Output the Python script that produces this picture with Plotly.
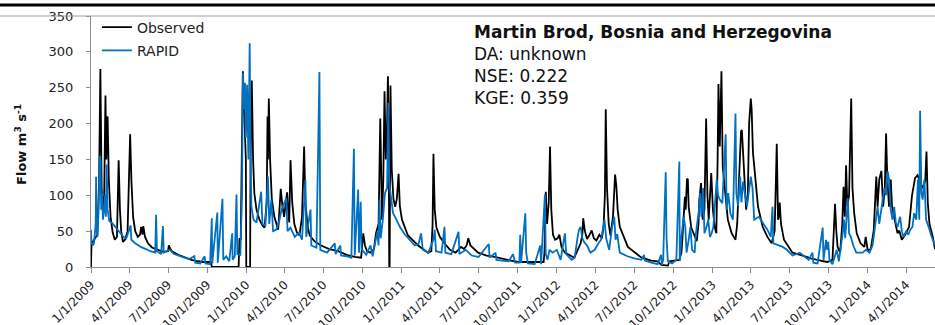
import plotly.graph_objects as go

# ---------------- data ----------------
observed_points = [
    ("2009-01-01", 0), ("2009-01-02", 30), ("2009-01-05", 35), ("2009-01-10", 40), ("2009-01-16", 45),
    ("2009-01-20", 120), ("2009-01-23", 276), ("2009-01-26", 110), ("2009-01-29", 80), ("2009-02-01", 100),
    ("2009-02-04", 239), ("2009-02-06", 150), ("2009-02-09", 210), ("2009-02-12", 120), ("2009-02-16", 70),
    ("2009-02-21", 48), ("2009-02-26", 38), ("2009-03-03", 42), ("2009-03-07", 149), ("2009-03-10", 80),
    ("2009-03-13", 50), ("2009-03-17", 35), ("2009-03-22", 38), ("2009-03-28", 50), ("2009-04-03", 185),
    ("2009-04-06", 120), ("2009-04-10", 70), ("2009-04-15", 50), ("2009-04-21", 42), ("2009-04-26", 45),
    ("2009-04-29", 56), ("2009-05-02", 45), ("2009-05-04", 57), ("2009-05-08", 42), ("2009-05-15", 33),
    ("2009-05-25", 27), ("2009-06-05", 24), ("2009-06-20", 21), ("2009-07-01", 22), ("2009-07-03", 30),
    ("2009-07-06", 26), ("2009-07-10", 22), ("2009-07-25", 17), ("2009-08-10", 13), ("2009-08-25", 10),
    ("2009-09-10", 8), ("2009-09-20", 7), ("2009-10-10", 7), ("2009-10-12", 0), ("2009-12-14", 0),
    ("2009-12-16", 40), ("2009-12-19", 38), ("2009-12-21", 120), ("2009-12-24", 273), ("2009-12-27", 220),
    ("2009-12-30", 180), ("2009-12-31", 150), ("2010-01-01", 0), ("2010-01-10", 0), ("2010-01-11", 150),
    ("2010-01-14", 260), ("2010-01-17", 150), ("2010-01-20", 103), ("2010-01-25", 80), ("2010-02-01", 66),
    ("2010-02-08", 58), ("2010-02-13", 55), ("2010-02-18", 90), ("2010-02-20", 210), ("2010-02-21", 150),
    ("2010-02-23", 235), ("2010-02-26", 150), ("2010-03-02", 95), ("2010-03-08", 70), ("2010-03-13", 58),
    ("2010-03-17", 52), ("2010-03-20", 80), ("2010-03-23", 109), ("2010-03-27", 85), ("2010-03-31", 70),
    ("2010-04-04", 90), ("2010-04-07", 104), ("2010-04-10", 75), ("2010-04-12", 62), ("2010-04-15", 149),
    ("2010-04-19", 90), ("2010-04-24", 60), ("2010-04-30", 48), ("2010-05-06", 44), ("2010-05-12", 70),
    ("2010-05-17", 168), ("2010-05-20", 90), ("2010-05-25", 58), ("2010-05-30", 44), ("2010-06-10", 36),
    ("2010-06-26", 30), ("2010-07-15", 25), ("2010-08-05", 22), ("2010-08-25", 17), ("2010-09-13", 14),
    ("2010-09-28", 13), ("2010-10-01", 30), ("2010-10-03", 47), ("2010-10-07", 30), ("2010-10-12", 22),
    ("2010-10-20", 20), ("2010-10-28", 25), ("2010-11-02", 47), ("2010-11-08", 60), ("2010-11-12", 207),
    ("2010-11-14", 90), ("2010-11-16", 66), ("2010-11-19", 120), ("2010-11-22", 245), ("2010-11-25", 150),
    ("2010-11-28", 200), ("2010-11-30", 266), ("2010-12-02", 180), ("2010-12-03", 0), ("2010-12-04", 0),
    ("2010-12-05", 120), ("2010-12-06", 253), ("2010-12-09", 136), ("2010-12-13", 95), ("2010-12-17", 84),
    ("2010-12-21", 95), ("2010-12-25", 130), ("2010-12-28", 85), ("2011-01-02", 66), ("2011-01-16", 44),
    ("2011-02-09", 30), ("2011-03-04", 20), ("2011-03-12", 22), ("2011-03-15", 60), ("2011-03-17", 158),
    ("2011-03-20", 80), ("2011-03-24", 55), ("2011-04-01", 42), ("2011-04-12", 33), ("2011-04-25", 24),
    ("2011-05-08", 20), ("2011-05-21", 28), ("2011-05-28", 25), ("2011-06-03", 30), ("2011-06-07", 40),
    ("2011-06-12", 30), ("2011-06-30", 20), ("2011-07-20", 16), ("2011-08-08", 14), ("2011-08-28", 11),
    ("2011-09-15", 9), ("2011-10-01", 7), ("2011-12-01", 7), ("2011-12-03", 20), ("2011-12-06", 105),
    ("2011-12-09", 60), ("2011-12-13", 90), ("2011-12-16", 168), ("2011-12-19", 80), ("2011-12-23", 45),
    ("2011-12-28", 38), ("2012-01-03", 40), ("2012-01-07", 45), ("2012-01-12", 28), ("2012-01-20", 20),
    ("2012-02-11", 13), ("2012-02-20", 25), ("2012-02-26", 33), ("2012-03-01", 45), ("2012-03-03", 68),
    ("2012-03-07", 50), ("2012-03-12", 39), ("2012-03-18", 45), ("2012-03-23", 51), ("2012-03-28", 40),
    ("2012-04-03", 37), ("2012-04-10", 45), ("2012-04-16", 40), ("2012-04-20", 58), ("2012-04-23", 100),
    ("2012-04-25", 220), ("2012-04-28", 110), ("2012-05-02", 60), ("2012-05-06", 44), ("2012-05-12", 70),
    ("2012-05-17", 129), ("2012-05-20", 113), ("2012-05-23", 80), ("2012-05-28", 56), ("2012-06-16", 28),
    ("2012-07-18", 13), ("2012-08-10", 9), ("2012-08-25", 8), ("2012-09-03", 3), ("2012-09-18", 2),
    ("2012-09-22", 8), ("2012-10-15", 10), ("2012-10-20", 20), ("2012-10-23", 47), ("2012-10-28", 98),
    ("2012-10-30", 80), ("2012-11-02", 123), ("2012-11-04", 122), ("2012-11-06", 84), ("2012-11-12", 55),
    ("2012-11-18", 47), ("2012-11-25", 36), ("2012-11-29", 60), ("2012-12-01", 94), ("2012-12-05", 117),
    ("2012-12-09", 66), ("2012-12-13", 80), ("2012-12-17", 207), ("2012-12-20", 100), ("2012-12-23", 66),
    ("2012-12-29", 131), ("2013-01-02", 80), ("2013-01-06", 56), ("2013-01-10", 47), ("2013-01-13", 150),
    ("2013-01-15", 255), ("2013-01-18", 168), ("2013-01-22", 273), ("2013-01-25", 140), ("2013-01-29", 113),
    ("2013-02-06", 66), ("2013-02-15", 47), ("2013-02-24", 38), ("2013-02-28", 60), ("2013-03-03", 110),
    ("2013-03-06", 150), ("2013-03-09", 189), ("2013-03-11", 191), ("2013-03-14", 159), ("2013-03-17", 126),
    ("2013-03-21", 80), ("2013-03-25", 100), ("2013-03-28", 200), ("2013-04-01", 235), ("2013-04-03", 220),
    ("2013-04-06", 160), ("2013-04-10", 135), ("2013-04-14", 110), ("2013-04-18", 84), ("2013-04-29", 56),
    ("2013-05-10", 42), ("2013-05-20", 33), ("2013-05-27", 50), ("2013-05-30", 120), ("2013-06-01", 172),
    ("2013-06-04", 66), ("2013-06-06", 70), ("2013-06-08", 90), ("2013-06-11", 60), ("2013-06-18", 38),
    ("2013-07-08", 20), ("2013-08-01", 16), ("2013-08-20", 12), ("2013-09-12", 9), ("2013-09-28", 7),
    ("2013-10-10", 10), ("2013-10-13", 47), ("2013-10-16", 88), ("2013-10-19", 50), ("2013-10-22", 28),
    ("2013-10-28", 20), ("2013-11-02", 60), ("2013-11-05", 112), ("2013-11-08", 70), ("2013-11-11", 142),
    ("2013-11-14", 84), ("2013-11-18", 100), ("2013-11-23", 235), ("2013-11-26", 110), ("2013-11-30", 75),
    ("2013-12-06", 47), ("2013-12-15", 33), ("2013-12-24", 28), ("2013-12-27", 42), ("2014-01-01", 23),
    ("2014-01-08", 25), ("2014-01-15", 51), ("2014-01-19", 100), ("2014-01-21", 126), ("2014-01-24", 84),
    ("2014-01-28", 122), ("2014-02-02", 134), ("2014-02-06", 84), ("2014-02-10", 110), ("2014-02-13", 186),
    ("2014-02-16", 122), ("2014-02-20", 84), ("2014-02-24", 122), ("2014-02-27", 84), ("2014-03-05", 66),
    ("2014-03-12", 47), ("2014-03-16", 51), ("2014-03-22", 38), ("2014-03-30", 45), ("2014-04-08", 56),
    ("2014-04-15", 100), ("2014-04-22", 124), ("2014-04-28", 128), ("2014-05-04", 120), ("2014-05-10", 110),
    ("2014-05-16", 120), ("2014-05-19", 161), ("2014-05-22", 90), ("2014-05-26", 60), ("2014-06-02", 44),
    ("2014-06-08", 25),
]

rapid_points = [
    ("2009-01-01", 52), ("2009-01-02", 35), ("2009-01-05", 30), ("2009-01-08", 33), ("2009-01-12", 60),
    ("2009-01-13", 126), ("2009-01-14", 55), ("2009-01-16", 42), ("2009-01-19", 80), ("2009-01-21", 150),
    ("2009-01-23", 155), ("2009-01-25", 80), ("2009-01-27", 103), ("2009-01-29", 66), ("2009-02-01", 80),
    ("2009-02-03", 100), ("2009-02-05", 70), ("2009-02-07", 143), ("2009-02-09", 80), ("2009-02-13", 64),
    ("2009-02-20", 61), ("2009-03-01", 55), ("2009-03-10", 48), ("2009-03-18", 42), ("2009-03-25", 40),
    ("2009-04-04", 58), ("2009-04-06", 38), ("2009-04-15", 33), ("2009-04-28", 28), ("2009-05-10", 25),
    ("2009-05-20", 22), ("2009-06-01", 20), ("2009-06-03", 73), ("2009-06-05", 22), ("2009-06-15", 18),
    ("2009-06-19", 57), ("2009-06-21", 20), ("2009-07-05", 24), ("2009-07-15", 18), ("2009-08-09", 13),
    ("2009-08-20", 11), ("2009-09-01", 15), ("2009-09-03", 6), ("2009-09-15", 5), ("2009-09-25", 15),
    ("2009-09-27", 5), ("2009-10-08", 4), ("2009-10-12", 68), ("2009-10-13", 5), ("2009-10-25", 76),
    ("2009-10-26", 6), ("2009-11-06", 95), ("2009-11-08", 10), ("2009-11-15", 15), ("2009-11-22", 8),
    ("2009-11-29", 47), ("2009-11-30", 10), ("2009-12-05", 15), ("2009-12-09", 101), ("2009-12-11", 18),
    ("2009-12-18", 17), ("2009-12-22", 100), ("2009-12-24", 271), ("2009-12-26", 220), ("2009-12-29", 257),
    ("2009-12-31", 180), ("2010-01-03", 254), ("2010-01-06", 150), ("2010-01-09", 312), ("2010-01-11", 159),
    ("2010-01-13", 84), ("2010-01-18", 66), ("2010-01-25", 62), ("2010-02-05", 105), ("2010-02-08", 60),
    ("2010-02-15", 58), ("2010-02-21", 126), ("2010-02-24", 60), ("2010-03-01", 94), ("2010-03-05", 50),
    ("2010-03-12", 52), ("2010-03-18", 60), ("2010-03-25", 80), ("2010-04-05", 96), ("2010-04-08", 50),
    ("2010-04-15", 55), ("2010-04-25", 42), ("2010-05-05", 48), ("2010-05-12", 38), ("2010-05-20", 122),
    ("2010-05-22", 42), ("2010-06-01", 80), ("2010-06-03", 30), ("2010-06-15", 27), ("2010-06-22", 272),
    ("2010-06-24", 24), ("2010-07-10", 20), ("2010-07-28", 33), ("2010-07-30", 18), ("2010-08-10", 30),
    ("2010-08-12", 16), ("2010-08-25", 15), ("2010-09-05", 13), ("2010-09-11", 165), ("2010-09-13", 16),
    ("2010-09-21", 108), ("2010-09-23", 20), ("2010-09-27", 91), ("2010-09-29", 25), ("2010-10-10", 17),
    ("2010-10-20", 30), ("2010-10-25", 15), ("2010-11-01", 38), ("2010-11-05", 49), ("2010-11-08", 30),
    ("2010-11-10", 94), ("2010-11-13", 40), ("2010-11-18", 66), ("2010-11-23", 103), ("2010-11-28", 110),
    ("2010-12-01", 229), ("2010-12-03", 120), ("2010-12-06", 103), ("2010-12-12", 75), ("2010-12-20", 66),
    ("2010-12-28", 56), ("2011-01-08", 46), ("2011-01-20", 38), ("2011-02-01", 30), ("2011-02-10", 32),
    ("2011-02-16", 47), ("2011-02-20", 24), ("2011-03-05", 20), ("2011-03-17", 38), ("2011-03-20", 52),
    ("2011-03-23", 22), ("2011-04-05", 20), ("2011-04-12", 56), ("2011-04-14", 20), ("2011-04-28", 18),
    ("2011-05-15", 49), ("2011-05-17", 18), ("2011-06-01", 24), ("2011-06-15", 16), ("2011-07-01", 14),
    ("2011-07-25", 32), ("2011-07-27", 13), ("2011-08-10", 20), ("2011-08-12", 10), ("2011-08-25", 9),
    ("2011-09-10", 8), ("2011-09-20", 18), ("2011-09-25", 6), ("2011-10-05", 6), ("2011-10-07", 45),
    ("2011-10-09", 6), ("2011-10-19", 75), ("2011-10-21", 20), ("2011-10-25", 5), ("2011-11-10", 4),
    ("2011-11-23", 30), ("2011-11-25", 4), ("2011-12-04", 101), ("2011-12-06", 18), ("2011-12-10", 10),
    ("2011-12-15", 24), ("2011-12-22", 20), ("2012-01-01", 24), ("2012-01-10", 10), ("2012-01-20", 47),
    ("2012-01-23", 18), ("2012-02-05", 10), ("2012-02-12", 13), ("2012-02-19", 42), ("2012-02-22", 52),
    ("2012-02-26", 56), ("2012-03-01", 40), ("2012-03-05", 35), ("2012-03-12", 30), ("2012-03-20", 20),
    ("2012-03-30", 24), ("2012-04-08", 33), ("2012-04-14", 38), ("2012-04-18", 52), ("2012-04-22", 66),
    ("2012-04-26", 40), ("2012-05-03", 24), ("2012-05-10", 56), ("2012-05-15", 70), ("2012-05-18", 38),
    ("2012-05-22", 46), ("2012-05-28", 20), ("2012-06-15", 15), ("2012-07-01", 12), ("2012-07-18", 10),
    ("2012-07-24", 17), ("2012-07-26", 9), ("2012-08-10", 6), ("2012-08-25", 4), ("2012-09-02", 17),
    ("2012-09-04", 3), ("2012-09-07", 10), ("2012-09-13", 132), ("2012-09-15", 40), ("2012-09-18", 8),
    ("2012-09-28", 5), ("2012-10-08", 10), ("2012-10-15", 147), ("2012-10-16", 8), ("2012-10-20", 42),
    ("2012-10-25", 70), ("2012-10-29", 56), ("2012-11-01", 20), ("2012-11-06", 38), ("2012-11-10", 56),
    ("2012-11-14", 24), ("2012-11-20", 20), ("2012-11-23", 47), ("2012-12-01", 84), ("2012-12-03", 103),
    ("2012-12-06", 70), ("2012-12-10", 110), ("2012-12-13", 47), ("2012-12-18", 56), ("2012-12-22", 66),
    ("2012-12-26", 42), ("2012-12-30", 47), ("2013-01-03", 56), ("2013-01-08", 94), ("2013-01-11", 122),
    ("2013-01-14", 100), ("2013-01-18", 94), ("2013-01-24", 89), ("2013-02-01", 185), ("2013-02-03", 80),
    ("2013-02-07", 103), ("2013-02-12", 75), ("2013-02-18", 66), ("2013-02-24", 214), ("2013-02-26", 103),
    ("2013-03-02", 85), ("2013-03-07", 126), ("2013-03-10", 90), ("2013-03-14", 119), ("2013-03-18", 103),
    ("2013-03-23", 85), ("2013-03-27", 103), ("2013-04-01", 126), ("2013-04-05", 110), ("2013-04-09", 66),
    ("2013-04-20", 70), ("2013-05-01", 61), ("2013-05-10", 52), ("2013-05-18", 42), ("2013-05-22", 84),
    ("2013-05-24", 33), ("2013-06-05", 30), ("2013-06-15", 28), ("2013-06-25", 24), ("2013-07-08", 16),
    ("2013-07-25", 20), ("2013-08-05", 15), ("2013-08-15", 10), ("2013-08-24", 20), ("2013-08-26", 6),
    ("2013-09-05", 5), ("2013-09-17", 55), ("2013-09-19", 10), ("2013-09-25", 38), ("2013-09-27", 24),
    ("2013-09-30", 35), ("2013-10-03", 10), ("2013-10-10", 4), ("2013-10-20", 24), ("2013-10-25", 8),
    ("2013-11-03", 47), ("2013-11-06", 66), ("2013-11-09", 40), ("2013-11-15", 96), ("2013-11-18", 47),
    ("2013-11-22", 42), ("2013-11-28", 30), ("2013-12-05", 20), ("2013-12-20", 20), ("2013-12-28", 24),
    ("2014-01-05", 20), ("2014-01-12", 30), ("2014-01-16", 47), ("2014-01-20", 66), ("2014-01-24", 84),
    ("2014-01-28", 60), ("2014-02-01", 75), ("2014-02-05", 94), ("2014-02-09", 110), ("2014-02-13", 100),
    ("2014-02-17", 133), ("2014-02-20", 122), ("2014-02-24", 80), ("2014-02-28", 66), ("2014-03-04", 84),
    ("2014-03-08", 61), ("2014-03-12", 56), ("2014-03-18", 70), ("2014-03-22", 50), ("2014-03-26", 42),
    ("2014-04-01", 50), ("2014-04-06", 45), ("2014-04-11", 52), ("2014-04-16", 56), ("2014-04-20", 75),
    ("2014-04-25", 66), ("2014-04-29", 122), ("2014-05-02", 66), ("2014-05-04", 218), ("2014-05-07", 103),
    ("2014-05-10", 94), ("2014-05-14", 122), ("2014-05-18", 66), ("2014-05-24", 56), ("2014-05-30", 44),
    ("2014-06-08", 30),
]

obs_dates = [d for d, _ in observed_points]
obs_flow = [v for _, v in observed_points]
rapid_dates = [d for d, _ in rapid_points]
rapid_flow = [v for _, v in rapid_points]

tick_dates = ["2009-01-01", "2009-04-01", "2009-07-01", "2009-10-01",
              "2010-01-01", "2010-04-01", "2010-07-01", "2010-10-01",
              "2011-01-01", "2011-04-01", "2011-07-01", "2011-10-01",
              "2012-01-01", "2012-04-01", "2012-07-01", "2012-10-01",
              "2013-01-01", "2013-04-01", "2013-07-01", "2013-10-01",
              "2014-01-01", "2014-04-01"]
tick_labels = ["1/1/2009", "4/1/2009", "7/1/2009", "10/1/2009",
               "1/1/2010", "4/1/2010", "7/1/2010", "10/1/2010",
               "1/1/2011", "4/1/2011", "7/1/2011", "10/1/2011",
               "1/1/2012", "4/1/2012", "7/1/2012", "10/1/2012",
               "1/1/2013", "4/1/2013", "7/1/2013", "10/1/2013",
               "1/1/2014", "4/1/2014"]
y_ticks = [0, 50, 100, 150, 200, 250, 300, 350]
x_range = ["2009-01-01", "2014-06-08"]

station_text = ("<b>Martin Brod, Bosnia and Herzegovina</b><br>DA: unknown<br>"
                "NSE: 0.222<br>KGE: 0.359")

# ---------------- figure ----------------
fig = go.Figure()
fig.add_trace(go.Scatter(x=obs_dates, y=obs_flow, mode="lines", name="Observed",
                         legendgroup="a",
                         line=dict(color="#000000", width=1.8)))
fig.add_trace(go.Scatter(x=rapid_dates, y=rapid_flow, mode="lines", name="RAPID",
                         legendgroup="b",
                         line=dict(color="#0070C0", width=1.8)))

axis_grey = "#8c8c8c"
fig.update_layout(
    width=935, height=325,
    margin=dict(l=91, r=0, t=16, b=58, autoexpand=False),
    paper_bgcolor="white", plot_bgcolor="white",
    font=dict(family="DejaVu Sans", color="#222222"),
    showlegend=True,
    legend=dict(x=0.007, y=1.018, xanchor="left", yanchor="top",
                bgcolor="rgba(0,0,0,0)", font=dict(size=14, color="#222222"),
                tracegroupgap=2, itemwidth=30),
    xaxis=dict(type="date", range=x_range, tickmode="array",
               tickvals=tick_dates, ticktext=tick_labels, tickangle=-45,
               tickfont=dict(size=12, family="DejaVu Sans", color="#222222"),
               ticks="outside", ticklen=5, tickcolor=axis_grey,
               showline=True, linecolor=axis_grey, linewidth=1,
               showgrid=False, zeroline=False, automargin=False),
    yaxis=dict(range=[0, 350], tickmode="array", tickvals=y_ticks,
               tickfont=dict(size=13, family="DejaVu Sans", color="#222222"),
               ticks="outside", ticklen=4, tickcolor=axis_grey,
               showline=True, linecolor=axis_grey, linewidth=1,
               showgrid=False, zeroline=False, ticklabelstandoff=10,
               automargin=False),
)

fig.add_annotation(xref="paper", yref="paper", x=-0.083, y=0.49,
                   text="<b>Flow m<sup>3</sup> s<sup>-1</sup></b>", textangle=-90,
                   showarrow=False, xanchor="center", yanchor="middle",
                   font=dict(size=13, family="DejaVu Sans", color="#111111"))

fig.add_annotation(xref="paper", yref="paper", x=0.452, y=0.984,
                   text=station_text, showarrow=False, align="left",
                   xanchor="left", yanchor="top",
                   font=dict(size=17, family="DejaVu Sans", color="#111111"))

# frame lines at the top of the picture
fig.add_shape(type="line", xref="paper", yref="paper", x0=-0.11, x1=1.0,
              y0=1.0, y1=1.0, line=dict(color="#a0a0a0", width=1))
fig.add_shape(type="line", xref="paper", yref="paper", x0=-0.11, x1=1.0,
              y0=1.044, y1=1.044, line=dict(color="#000000", width=3))

fig.write_html("out.html",
               config={"displayModeBar": False},
               post_script="document.body.style.margin='0px';"
                           "document.body.style.overflow='hidden';")
